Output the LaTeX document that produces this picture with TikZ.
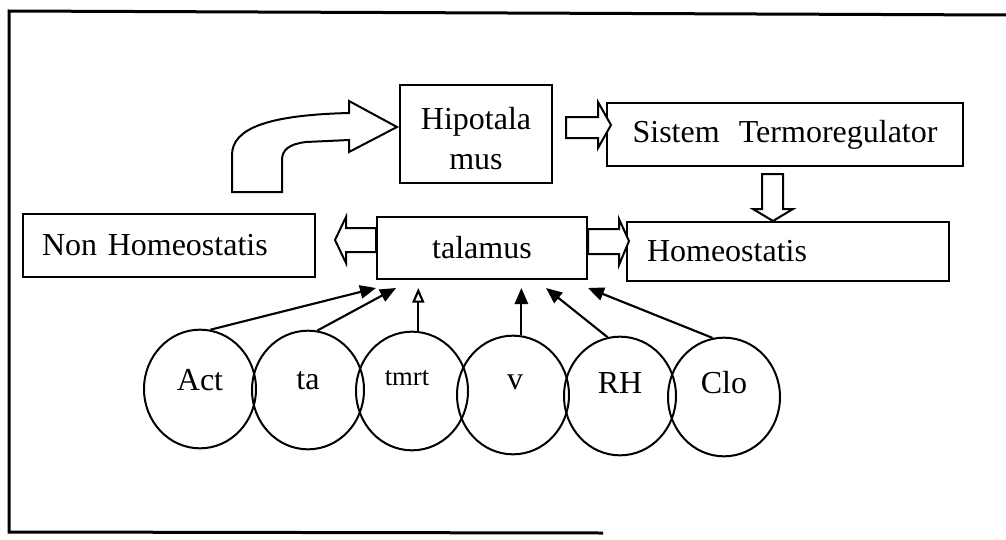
\documentclass[tikz,border=0pt]{standalone}
\usepackage{fontspec}
\setmainfont{Liberation Serif}
\usetikzlibrary{shapes.geometric,arrows.meta,calc}
\begin{document}
\begin{tikzpicture}[x=0.75pt,y=-0.75pt,
  txt/.style={font=\fontsize{24}{30}\selectfont},
  box/.style={draw,line width=1.5pt,inner sep=0pt,txt},
  leftbox/.style={box,align=left},
  blockarrow/.style={draw,fill=white,line width=1.5pt,line join=miter},
  ell/.style={draw,ellipse,line width=1.5pt,minimum width=84pt,minimum height=89pt,inner sep=0pt},
  feed/.style={line width=1.6pt,-{Triangle[length=12pt,width=10pt]}},
  feedopen/.style={line width=1.6pt,-{Triangle[open,length=11pt,width=9pt]}},
]
\useasboundingbox (0,0) rectangle (1006,539);

% page frame
\draw[line width=2.25pt] (1006,15) -- (9,11) -- (9,532) -- (603,533);

% boxes
\node[box,minimum width=114pt,minimum height=73.5pt,align=center] (hipo) at (476,134)
  {\rule{0pt}{24pt}Hipotala\\mus};
\node[box,minimum width=267pt,minimum height=47.25pt] (sist) at (785,134.5)
  {Sistem\hspace{0.6em}Termoregulator};
\node[leftbox,minimum height=47.25pt,inner xsep=14.25pt,text width=190.5pt] (nonh) at (169,245.5)
  {Non Homeostatis};
\node[box,minimum width=157.5pt,minimum height=46.5pt] (tala) at (482,248) {talamus};
\node[leftbox,minimum height=44.25pt,inner xsep=15pt,text width=211.5pt] (home) at (788,251.5)
  {Homeostatis};

% block arrows
\begin{scope}[shift={(hipo.west)}]
  \draw[blockarrow] (-167,58) -- (-167,21) .. controls (-167,-6) and (-130,-19) .. (-50,-21)
    -- (-50,-33) -- (-2,-7) -- (-50,18) -- (-50,6) -- (-93,8)
    .. controls (-110,10) and (-117,16) .. (-117,26) -- (-117,58) -- cycle;
\end{scope}
\begin{scope}[shift={(hipo.east)}]
  \draw[blockarrow] (13,-17) -- (45,-17) -- (45,-32) -- (58,-9) -- (45,14) -- (45,4) -- (13,4) -- cycle;
\end{scope}
\begin{scope}[shift={(sist.south)}]
  \draw[blockarrow] (-23,7) -- (-2,7) -- (-2,42) -- (8,42) -- (-12,54) -- (-32,42) -- (-23,42) -- cycle;
\end{scope}
\begin{scope}[shift={(tala.west)}]
  \draw[blockarrow] (0,-20) -- (-30,-20) -- (-30,-31) -- (-41,-8) -- (-30,15) -- (-30,4) -- (0,4) -- cycle;
\end{scope}
\begin{scope}[shift={(tala.east)}]
  \draw[blockarrow] (0,-19) -- (31,-19) -- (31,-29) -- (41,-7) -- (31,17) -- (31,6) -- (0,6) -- cycle;
\end{scope}

% input factors
\node[ell,label={[txt,yshift=6.75pt]center:Act}] (act) at (200,389) {};
\node[ell,label={[txt,yshift=6.75pt]center:ta}] (ta) at (308,390) {};
\node[ell,label={[font=\fontsize{20}{24}\selectfont,xshift=-3.75pt,yshift=9.75pt]center:tmrt}] (tmrt) at (412,391) {};
\node[ell,label={[txt,xshift=1.5pt,yshift=9.75pt]center:v}] (v) at (513,395) {};
\node[ell,label={[txt,yshift=9.75pt]center:RH}] (rh) at (620,396) {};
\node[ell,label={[txt,yshift=10.5pt]center:Clo}] (clo) at (724,397) {};

% inputs to talamus
\draw[feed] (act.80) -- ([yshift=-6pt]tala.south west);
\draw[feed] (ta.81) -- ([xshift=15pt,yshift=-6pt]tala.south west);
\draw[feedopen] (tmrt.84) -- ($(tmrt.84 |- tala.south)+(0,8)$);
\draw[feed] (v.82) -- ($(v.82 |- tala.south)+(0,8)$);
\draw[feed] (rh.102) -- ([xshift=-31.5pt,yshift=-6pt]tala.south east);
\draw[feed] (clo.101) -- ([yshift=-6pt]tala.south east);
\end{tikzpicture}
\end{document}
